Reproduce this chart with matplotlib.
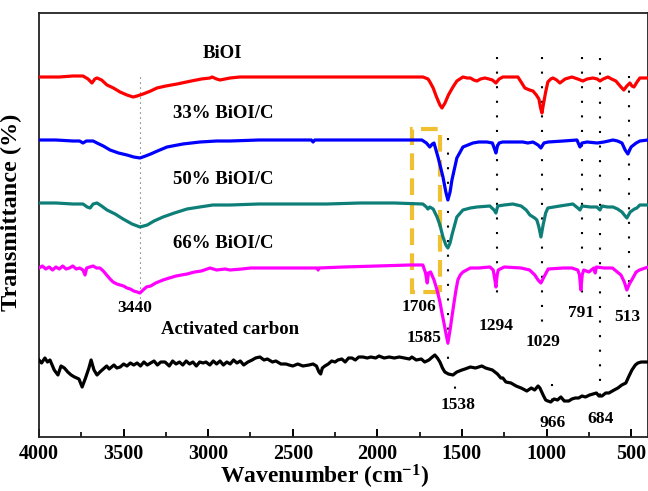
import matplotlib
matplotlib.use("Agg")
import matplotlib.pyplot as plt
from matplotlib.patches import Rectangle

plt.rcParams['font.family'] = ['Liberation Serif', 'DejaVu Serif']
plt.rcParams['font.weight'] = 'bold'
plt.rcParams['mathtext.fontset'] = 'custom'
plt.rcParams['mathtext.rm'] = 'Liberation Serif:bold'
plt.rcParams['mathtext.it'] = 'Liberation Serif:bold'
plt.rcParams['mathtext.bf'] = 'Liberation Serif:bold'

# spectra (wavenumber, offset transmittance in arbitrary units)
wn_bioi = [4000, 3880, 3800, 3740, 3710, 3687, 3670, 3657, 3630, 3598, 3560, 3521, 3480, 3444, 3420, 3385,
           3340, 3303, 3250, 3184, 3100, 3040, 2989, 2977, 2950, 2930, 2900, 2871, 2812, 2600, 2400, 2200,
           2000, 1800, 1730, 1700, 1689, 1670, 1650, 1630, 1618, 1600, 1580, 1553, 1530, 1494, 1470, 1450,
           1430, 1411, 1390, 1364, 1340, 1320, 1299, 1280, 1258, 1220, 1169, 1150, 1128, 1100, 1080, 1060,
           1045, 1035, 1027, 1018, 1005, 992, 975, 962, 940, 921, 890, 850, 815, 785, 760, 726, 700, 684,
           665, 637, 615, 590, 560, 543, 525, 507, 495, 483, 465, 448, 400]
pix_bioi = [77, 77, 76, 76, 79, 83, 79, 78, 80, 85, 88, 92, 95, 97, 96, 94,
            91, 88, 86, 84, 81, 79, 78, 77, 79, 80, 79, 78, 77, 77, 77, 77,
            77, 77, 77, 79, 82, 88, 97, 105, 108, 103, 95, 87, 81, 77, 78, 78,
            80, 81, 79, 78, 79, 80, 83, 79, 77, 77, 77, 82, 88, 90, 91, 95,
            99, 108, 113, 104, 92, 82, 79, 78, 80, 83, 79, 77, 79, 81, 79, 78, 79, 81,
            79, 77, 79, 81, 87, 90, 86, 83, 86, 87, 82, 78, 78]

wn_33 = [4000, 3900, 3800, 3760, 3740, 3720, 3680, 3657, 3620, 3580, 3530, 3480, 3440, 3403, 3370, 3340,
         3300, 3243, 3150, 3048, 2950, 2871, 2700, 2500, 2390, 2380, 2370, 2200, 2000, 1800, 1737, 1710,
         1690, 1675, 1665, 1640, 1612, 1595, 1583, 1570, 1559, 1530, 1494, 1435, 1400, 1352, 1320, 1305,
         1299, 1290, 1280, 1260, 1140, 1110, 1080, 1050, 1033, 1015, 990, 900, 820, 810, 802, 790, 760,
         700, 660, 607, 580, 554, 535, 519, 500, 470, 448, 400]
pix_33 = [140, 140, 141, 141, 143, 141, 141, 143, 146, 150, 153, 155, 157, 158, 156, 154,
          151, 147, 144, 142, 141, 141, 140, 140, 140, 142, 140, 140, 140, 140, 140, 143,
          147, 144, 143, 158, 177, 192, 200, 192, 180, 158, 147, 143, 142, 142, 143, 150,
          153, 146, 143, 142, 142, 143, 142, 145, 148, 143, 142, 141, 140, 144, 147, 143, 142,
          143, 142, 140, 141, 143, 150, 154, 147, 143, 141, 140]

wn_50 = [4000, 3900, 3800, 3740, 3715, 3698, 3680, 3657, 3630, 3598, 3550, 3503, 3450, 3403, 3360, 3320,
         3267, 3200, 3125, 3050, 2972, 2871, 2700, 2500, 2300, 2100, 1900, 1731, 1710, 1701, 1690, 1670,
         1647, 1630, 1612, 1595, 1583, 1570, 1559, 1530, 1494, 1450, 1411, 1335, 1310, 1299, 1288, 1250,
         1199, 1150, 1120, 1098, 1070, 1057, 1045, 1033, 1020, 1005, 992, 921, 844, 815, 802, 790, 740,
         702, 684, 672, 640, 607, 580, 554, 540, 525, 505, 480, 466, 448, 400]
pix_50 = [203, 203, 204, 204, 207, 208, 204, 203, 206, 210, 214, 219, 224, 227, 225, 221,
          217, 213, 209, 207, 205, 205, 204, 204, 204, 203, 203, 204, 207, 209, 207, 209,
          217, 225, 237, 245, 248, 243, 235, 217, 210, 208, 207, 206, 210, 213, 206, 205,
          204, 206, 210, 215, 218, 220, 227, 237, 225, 213, 208, 206, 204, 208, 210, 206, 207,
          207, 210, 206, 207, 207, 209, 212, 215, 218, 212, 209, 208, 205, 205]

wn_66 = [4000, 3980, 3960, 3940, 3920, 3900, 3880, 3860, 3840, 3820, 3800, 3780, 3760, 3740, 3728, 3718,
         3700, 3680, 3660, 3640, 3620, 3600, 3580, 3562, 3540, 3520, 3500, 3480, 3460, 3440, 3420, 3403,
         3385, 3365, 3340, 3310, 3267, 3230, 3190, 3125, 3080, 3040, 2989, 2950, 2900, 2871, 2800, 2750,
         2694, 2600, 2500, 2400, 2355, 2350, 2345, 2200, 2000, 1807, 1731, 1715, 1705, 1698, 1685, 1665,
         1647, 1630, 1618, 1605, 1595, 1583, 1570, 1560, 1547, 1535, 1524, 1510, 1494, 1450, 1400, 1335,
         1315, 1305, 1299, 1292, 1285, 1250, 1150, 1100, 1069, 1050, 1033, 1015, 990, 900, 850, 815, 805,
         797, 789, 780, 750, 720, 712, 705, 660, 610, 560, 540, 525, 510, 496, 470, 450, 400]
pix_66 = [268, 266, 269, 267, 270, 267, 269, 266, 269, 268, 266, 269, 268, 270, 275, 268,
          267, 266, 268, 268, 271, 275, 279, 282, 284, 285, 286, 288, 289, 291, 292, 293,
          290, 287, 286, 283, 280, 278, 276, 274, 272, 271, 268, 270, 269, 270, 269, 268,
          268, 268, 268, 268, 268, 270, 268, 267, 266, 265, 265, 273, 283, 273, 272, 280,
          290, 302, 313, 324, 333, 343, 330, 318, 303, 290, 280, 275, 272, 268, 268, 267,
          270, 280, 287, 275, 270, 267, 268, 270, 275, 280, 283, 277, 269, 268, 268, 270, 275,
          290, 275, 270, 272, 268, 273, 267, 268, 268, 275, 282, 290, 284, 280, 272, 270, 267]

wn_ac = [4000, 3985, 3965, 3950, 3935, 3910, 3888, 3870, 3850, 3830, 3810, 3790, 3764, 3745, 3725, 3705,
         3692, 3675, 3657, 3640, 3620, 3600, 3585, 3557, 3540, 3520, 3500, 3480, 3460, 3440, 3420, 3400,
         3380, 3360, 3340, 3320, 3300, 3280, 3255, 3230, 3210, 3190, 3170, 3150, 3130, 3110, 3090, 3070,
         3050, 3030, 3013, 2990, 2970, 2950, 2930, 2910, 2890, 2870, 2850, 2830, 2810, 2790, 2765, 2740,
         2720, 2694, 2670, 2650, 2620, 2600, 2570, 2540, 2522, 2500, 2470, 2440, 2404, 2380, 2360, 2345,
         2335, 2325, 2310, 2290, 2270, 2250, 2233, 2210, 2190, 2170, 2150, 2130, 2110, 2085, 2060, 2038,
         2010, 1990, 1960, 1930, 1900, 1870, 1840, 1810, 1796, 1770, 1740, 1720, 1695, 1675, 1660, 1645,
         1630, 1615, 1601, 1580, 1553, 1530, 1500, 1482, 1450, 1420, 1382, 1360, 1340, 1320, 1290, 1270,
         1258, 1240, 1210, 1180, 1150, 1116, 1090, 1070, 1050, 1039, 1020, 1005, 992, 975, 955, 935, 915,
         895, 868, 850, 830, 810, 790, 770, 745, 726, 705, 690, 672, 650, 631, 600, 578, 555, 531, 515,
         495, 475, 460, 440, 400]
pix_ac = [360, 363, 358, 362, 360, 370, 375, 366, 368, 372, 375, 377, 379, 387, 378, 368,
          360, 370, 375, 372, 369, 366, 369, 365, 368, 367, 364, 366, 363, 365, 363, 366,
          362, 365, 363, 361, 365, 362, 362, 366, 361, 364, 362, 365, 361, 364, 362, 366,
          362, 363, 362, 365, 361, 364, 361, 365, 362, 364, 360, 363, 361, 365, 362, 360,
          358, 357, 360, 359, 362, 361, 364, 364, 365, 366, 364, 366, 365, 364, 366, 372,
          374, 368, 366, 364, 361, 362, 360, 359, 362, 358, 358, 360, 357, 357, 358, 357,
          358, 356, 358, 357, 358, 357, 358, 359, 357, 360, 359, 362, 360, 357, 355, 358,
          362, 368, 372, 374, 375, 372, 370, 369, 367, 368, 366, 368, 369, 370, 374, 378,
          378, 382, 383, 386, 388, 391, 388, 390, 386, 388, 395, 400, 401, 402, 399, 400, 397,
          401, 401, 399, 398, 398, 396, 397, 395, 394, 393, 396, 396, 393, 393, 390, 388, 385, 383, 377,
          370, 365, 363, 362, 362]

series = [
    (wn_bioi, pix_bioi, '#ff0000'),
    (wn_33, pix_33, '#0000ff'),
    (wn_50, pix_50, '#0e7f78'),
    (wn_66, pix_66, '#ff00ff'),
    (wn_ac, pix_ac, '#000000'),
]

sample_names = ['BiOI', '33% BiOI/C', '50% BiOI/C', '66% BiOI/C', 'Activated carbon']
name_wn = [2913, 2913, 2913, 2913, 2871]
name_pix = [53, 113, 180, 243, 330]

# band markers: wavenumber, dotted-line top/bottom (pixel rows), label
band_wn = [1585, 1538, 1294, 1029, 966, 791, 684, 513]
band_top = [138, 372, 57, 57, 384, 57, 58, 76]
band_bot = [362, 394, 302, 330, 410, 302, 402, 302]
band_text = ['1585', '1538', '1294', '1029', '966', '791', '684', '513', '3440', '1706']
band_text_wn = [1725, 1524, 1299, 1021, 962, 797, 679, 525, 3433, 1754]
band_text_pix = [338, 405, 326, 342, 423, 313, 419, 317, 308, 307]

Y0 = 437  # pixel row of the x axis


def val(p):
    return [Y0 - v for v in p]


fig = plt.figure(figsize=(6.48, 4.91), dpi=100)
ax = fig.add_axes([39 / 648, 54 / 491, 609 / 648, 424 / 491])

# dotted guide lines
ax.plot([3405, 3405], val([77, 298]), color='#555555', lw=0.8, ls=(0, (1, 3.5)), zorder=1)
for w, t, b in zip(band_wn, band_top, band_bot):
    ax.plot([w, w], val([t, b]), color='black', lw=1.5, ls=(0, (1, 6)), zorder=1)

for wn, p, c in series:
    ax.plot(wn, val(p), color=c, lw=2.3, zorder=3)

for name, w, p in zip(sample_names, name_wn, name_pix):
    ax.text(w, Y0 - p, name, fontsize=13.5, fontweight='bold', ha='center', va='center')

for s, w, p in zip(band_text, band_text_wn, band_text_pix):
    ax.text(w, Y0 - p, s, fontsize=12.5, fontweight='bold', ha='center', va='center')

# highlighted region around 1706
ax.add_patch(Rectangle((1630, Y0 - 292), 166, 163, fill=False, edgecolor='#f0c030',
                       lw=3, ls=(0, (4, 2)), zorder=2))

ax.set_xlim(4000, 400)
ax.set_ylim(0, 424)
ax.set_xticks([4000, 3500, 3000, 2500, 2000, 1500, 1000, 500])
ax.set_xticks([3750, 3250, 2750, 2250, 1750, 1250, 750], minor=True)
ax.tick_params(axis='x', which='major', direction='in', length=6, width=1.4, pad=5, labelsize=14.5)
ax.tick_params(axis='x', which='minor', direction='in', length=3.5, width=1.2)
ax.set_yticks([])
for sp in ax.spines.values():
    sp.set_linewidth(1.3)
    sp.set_color('#222222')

fig.text(325 / 648, 7 / 491, 'Wavenumber (cm$^{-1}$)', fontsize=17, fontweight='bold',
         ha='center', va='baseline')
ax.set_ylabel('Transmittance (%)', fontsize=17.5, fontweight='bold')
ax.yaxis.set_label_coords(-0.028, 0.53)

fig.savefig('out.png', dpi=100)
